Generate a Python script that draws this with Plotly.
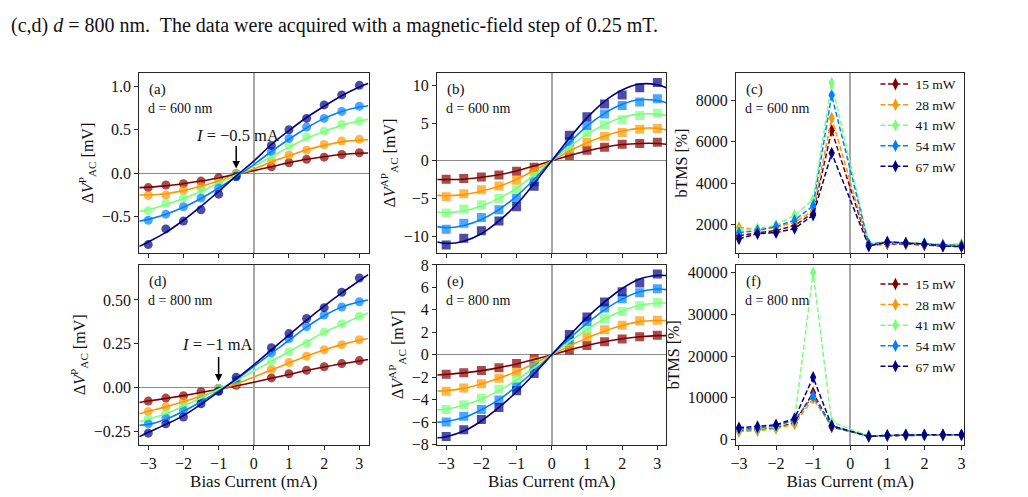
import plotly.graph_objects as go

# ---------------- data ----------------
powers = ["15 mW", "28 mW", "41 mW", "54 mW", "67 mW"]
colors = ["#800000", "#FF9700", "#7BFF7B", "#0080FF", "#000080"]

x_pts = [-3, -2.5, -2, -1.5, -1, -0.5, 0.5, 1, 1.5, 2, 2.5, 3]
x_fit = [-3.25, -3, -2.5, -2, -1.5, -1, -0.5, 0, 0.5, 1, 1.5, 2, 2.5, 3, 3.25]
x_ticks = [-3, -2, -1, 0, 1, 2, 3]

# (a) d = 600 nm, Delta V^P_AC [mV]
a_pts = [
    [-0.165, -0.135, -0.12, -0.09, -0.05, -0.005, 0.075, 0.12, 0.16, 0.185, 0.215, 0.235],
    [-0.255, -0.25, -0.195, -0.155, -0.09, -0.01, 0.135, 0.21, 0.265, 0.33, 0.37, 0.39],
    [-0.43, -0.345, -0.285, -0.19, -0.10, -0.015, 0.20, 0.315, 0.42, 0.485, 0.56, 0.60],
    [-0.54, -0.47, -0.385, -0.285, -0.17, -0.03, 0.25, 0.40, 0.53, 0.63, 0.71, 0.77],
    [-0.82, -0.64, -0.55, -0.42, -0.24, -0.04, 0.32, 0.50, 0.63, 0.785, 0.90, 1.01],
]
a_fit = [
    [-0.165, -0.16, -0.145, -0.12, -0.09, -0.055, -0.01, 0.03, 0.075, 0.12, 0.16, 0.19, 0.215, 0.23, 0.232],
    [-0.25, -0.25, -0.235, -0.20, -0.15, -0.09, -0.02, 0.05, 0.13, 0.20, 0.27, 0.32, 0.36, 0.38, 0.385],
    [-0.44, -0.42, -0.36, -0.29, -0.21, -0.11, -0.02, 0.08, 0.19, 0.30, 0.40, 0.48, 0.55, 0.60, 0.62],
    [-0.55, -0.53, -0.47, -0.39, -0.29, -0.17, -0.04, 0.10, 0.25, 0.39, 0.52, 0.63, 0.71, 0.76, 0.775],
    [-0.84, -0.79, -0.68, -0.54, -0.38, -0.21, -0.03, 0.14, 0.33, 0.49, 0.64, 0.77, 0.89, 0.99, 1.03],
]

# (b) d = 600 nm, Delta V^AP_AC [mV]
b_pts = [
    [-2.45, -2.35, -2.15, -1.9, -1.4, -0.85, 0.7, 1.4, 1.8, 2.2, 2.3, 2.45],
    [-4.8, -4.4, -3.85, -3.35, -2.6, -1.4, 1.35, 2.45, 3.25, 3.75, 4.2, 4.3],
    [-6.95, -6.4, -5.85, -5.0, -3.85, -2.1, 1.7, 3.75, 4.8, 5.45, 6.0, 6.3],
    [-9.1, -8.3, -7.55, -6.5, -5.0, -2.8, 2.55, 4.7, 6.2, 7.35, 7.8, 8.25],
    [-11.2, -10.3, -9.3, -8.0, -6.1, -3.4, 3.4, 5.85, 7.55, 8.75, 9.7, 10.4],
]
b_fit = [
    [-2.5, -2.5, -2.45, -2.2, -1.85, -1.35, -0.7, 0, 0.7, 1.3, 1.8, 2.15, 2.3, 2.3, 2.2],
    [-4.6, -4.65, -4.5, -4.05, -3.4, -2.45, -1.3, 0, 1.3, 2.4, 3.3, 3.95, 4.3, 4.3, 4.1],
    [-6.8, -6.9, -6.65, -6.0, -5.0, -3.65, -1.9, 0, 1.85, 3.5, 4.8, 5.75, 6.2, 6.2, 6.0],
    [-8.75, -8.9, -8.6, -7.8, -6.5, -4.7, -2.45, 0, 2.4, 4.6, 6.3, 7.5, 8.1, 8.0, 7.7],
    [-10.8, -11.0, -10.7, -9.7, -8.0, -5.8, -3.0, 0, 3.0, 5.7, 7.9, 9.4, 10.2, 10.1, 9.7],
]

# (c) d = 600 nm, bTMS [%]
c_pts = [
    [1450, 1600, 1700, 1950, 2550, 6550, 980, 1050, 1050, 1000, 950, 950],
    [1850, 1750, 1850, 2100, 2650, 7150, 1000, 1100, 1080, 1050, 1000, 1050],
    [1700, 1800, 1950, 2450, 3200, 8850, 1050, 1150, 1100, 1100, 1000, 1000],
    [1600, 1700, 1900, 2200, 2900, 8250, 1050, 1150, 1100, 1050, 1000, 980],
    [1300, 1550, 1600, 1800, 2450, 5450, 950, 1150, 1100, 1050, 950, 920],
]

# (d) d = 800 nm, Delta V^P_AC [mV]
d_pts = [
    [-0.077, -0.06, -0.046, -0.024, -0.005, 0.013, 0.055, 0.079, 0.099, 0.119, 0.137, 0.154],
    [-0.137, -0.11, -0.079, -0.051, -0.013, 0.022, 0.104, 0.143, 0.179, 0.216, 0.245, 0.273],
    [-0.178, -0.147, -0.104, -0.059, -0.005, 0.037, 0.15, 0.205, 0.251, 0.317, 0.364, 0.407],
    [-0.207, -0.174, -0.128, -0.073, -0.018, 0.042, 0.198, 0.28, 0.348, 0.414, 0.46, 0.49],
    [-0.26, -0.207, -0.168, -0.092, -0.022, 0.059, 0.227, 0.308, 0.394, 0.456, 0.544, 0.625],
]
d_fit = [
    [-0.085, -0.077, -0.062, -0.046, -0.028, -0.01, 0.01, 0.03, 0.053, 0.075, 0.097, 0.117, 0.136, 0.152, 0.16],
    [-0.15, -0.135, -0.11, -0.08, -0.05, -0.015, 0.02, 0.06, 0.10, 0.14, 0.18, 0.215, 0.245, 0.27, 0.28],
    [-0.195, -0.18, -0.15, -0.105, -0.06, -0.01, 0.04, 0.095, 0.15, 0.205, 0.26, 0.315, 0.36, 0.405, 0.425],
    [-0.215, -0.21, -0.18, -0.135, -0.08, -0.02, 0.045, 0.12, 0.195, 0.27, 0.345, 0.41, 0.46, 0.49, 0.50],
    [-0.28, -0.255, -0.21, -0.16, -0.095, -0.025, 0.05, 0.13, 0.215, 0.30, 0.385, 0.465, 0.54, 0.61, 0.645],
]

# (e) d = 800 nm, Delta V^AP_AC [mV]
e_pts = [
    [-1.73, -1.61, -1.41, -1.15, -0.78, -0.37, 0.43, 0.83, 1.15, 1.41, 1.61, 1.73],
    [-3.25, -2.96, -2.59, -2.1, -1.53, -0.58, 0.78, 1.58, 2.22, 2.62, 3.02, 3.08],
    [-4.89, -4.46, -3.88, -3.08, -2.24, -0.86, 1.15, 2.24, 3.22, 3.86, 4.37, 4.66],
    [-5.99, -5.47, -4.89, -4.03, -2.88, -1.0, 1.3, 2.96, 4.17, 4.98, 5.53, 5.87],
    [-7.28, -6.68, -5.76, -4.69, -3.22, -1.67, 1.81, 3.37, 4.69, 5.61, 6.39, 7.19],
]
e_fit = [
    [-1.8, -1.75, -1.62, -1.42, -1.15, -0.82, -0.42, 0, 0.42, 0.82, 1.15, 1.42, 1.6, 1.7, 1.7],
    [-3.25, -3.2, -3.0, -2.6, -2.1, -1.5, -0.78, 0, 0.78, 1.5, 2.1, 2.6, 2.95, 3.05, 3.05],
    [-4.9, -4.85, -4.5, -3.95, -3.2, -2.25, -1.15, 0, 1.15, 2.25, 3.2, 3.9, 4.4, 4.6, 4.6],
    [-6.0, -5.95, -5.6, -4.9, -4.0, -2.8, -1.45, 0, 1.45, 2.8, 4.0, 4.95, 5.6, 5.85, 5.8],
    [-7.4, -7.3, -6.8, -5.9, -4.7, -3.3, -1.7, 0, 1.7, 3.3, 4.7, 5.9, 6.75, 7.05, 7.05],
]

# (f) d = 800 nm, bTMS [%]
f_pts = [
    [2200, 2400, 2800, 4000, 11200, 3000, 800, 900, 1000, 1000, 1000, 1000],
    [1900, 2100, 2600, 3700, 9800, 3100, 800, 950, 1000, 1050, 1050, 1050],
    [2400, 2600, 3000, 4800, 40000, 4200, 800, 1000, 1100, 1100, 1100, 1100],
    [2500, 2700, 3300, 4600, 10400, 3200, 750, 950, 1050, 1050, 1100, 1100],
    [2800, 3100, 3500, 5000, 14900, 3300, 700, 1000, 1100, 1100, 1100, 1100],
]

# ---------------- layout helpers ----------------
W, H = 1028, 497
FONT = "Liberation Serif"
TXT = "#111111"
fig = go.Figure()


def px_x(a, b):
    return [a / W, b / W]


def px_y(top, bot):
    return [1 - bot / H, 1 - top / H]


cols = [px_x(134, 365), px_x(434, 665), px_x(735, 965)]
rows = [px_y(67, 254), px_y(266, 452)]

panels = [
    # name, row, col, yrange, ytickvals, ytickformat, ytitle, xrange, zero-h
    ("a", 0, 0, [-0.92, 1.155], [-0.5, 0, 0.5, 1.0], ".1f",
     "Δ<i>V</i><sup>P</sup><sub>AC</sub> [mV]", [-3.26, 3.26], True),
    ("b", 0, 1, [-12.3, 11.7], [-10, -5, 0, 5, 10], "d",
     "Δ<i>V</i><sup>AP</sup><sub>AC</sub> [mV]", [-3.26, 3.26], True),
    ("c", 0, 2, [600, 9340], [2000, 4000, 6000, 8000], "d",
     "bTMS [%]", [-3.08, 3.08], False),
    ("d", 1, 0, [-0.325, 0.70], [-0.25, 0, 0.25, 0.5], ".2f",
     "Δ<i>V</i><sup>P</sup><sub>AC</sub> [mV]", [-3.26, 3.26], True),
    ("e", 1, 1, [-8, 8], [-8, -6, -4, -2, 0, 2, 4, 6, 8], "d",
     "Δ<i>V</i><sup>AP</sup><sub>AC</sub> [mV]", [-3.26, 3.26], True),
    ("f", 1, 2, [-1230, 41850], [0, 10000, 20000, 30000, 40000], "d",
     "bTMS [%]", [-3.08, 3.08], False),
]

axis_line = "#262626"
for i, (name, r, c, yr, ytv, yfmt, ytitle, xr, zh) in enumerate(panels):
    n = i + 1
    xk = "xaxis" if n == 1 else f"xaxis{n}"
    yk = "yaxis" if n == 1 else f"yaxis{n}"
    xa = "x" if n == 1 else f"x{n}"
    ya = "y" if n == 1 else f"y{n}"
    fig.layout[xk] = dict(
        domain=cols[c], anchor=ya, range=xr, tickvals=x_ticks,
        showticklabels=(r == 1), ticks="outside", ticklen=4, tickwidth=1,
        tickcolor=axis_line, showline=True, mirror=True, linecolor=axis_line,
        linewidth=1, showgrid=False, zeroline=True, zerolinecolor="#a6a6a6",
        zerolinewidth=1.5, tickfont=dict(family=FONT, size=16, color=TXT),
        title=dict(text="Bias Current (mA)" if r == 1 else "",
                   font=dict(family=FONT, size=17, color=TXT), standoff=3),
    )
    fig.layout[yk] = dict(
        domain=rows[r], anchor=xa, range=yr, tickvals=ytv, tickformat=yfmt,
        ticks="outside", ticklen=4, tickwidth=1, tickcolor=axis_line,
        showline=True, mirror=True, linecolor=axis_line, linewidth=1,
        showgrid=False, zeroline=zh, zerolinecolor="#8c8c8c", zerolinewidth=1,
        tickfont=dict(family=FONT, size=16, color=TXT),
        title=dict(text=ytitle, font=dict(family=FONT, size=16, color=TXT),
                   standoff=4),
    )
    # panel labels
    fig.add_annotation(text=f"({name})", xref=f"{xa} domain", yref=f"{ya} domain",
                       x=0.035, y=0.905, xanchor="left", yanchor="middle",
                       showarrow=False, font=dict(family=FONT, size=15, color=TXT))
    fig.add_annotation(text="d = 600 nm" if r == 0 else "d = 800 nm",
                       xref=f"{xa} domain", yref=f"{ya} domain",
                       x=0.03, y=0.80, xanchor="left", yanchor="middle",
                       showarrow=False, font=dict(family=FONT, size=14, color=TXT))

# ---------------- traces ----------------
def add_fit_panel(n, pts, fit, symbol):
    xa = "x" if n == 1 else f"x{n}"
    ya = "y" if n == 1 else f"y{n}"
    for k in range(5):
        fig.add_trace(go.Scatter(
            x=x_pts, y=pts[k], mode="markers", xaxis=xa, yaxis=ya,
            marker=dict(symbol=symbol, size=9, color=colors[k], opacity=0.7,
                        line=dict(width=0)),
            showlegend=False, hoverinfo="skip"))
    for k in range(5):
        fig.add_trace(go.Scatter(
            x=x_fit, y=fit[k], mode="lines", xaxis=xa, yaxis=ya,
            line=dict(color=colors[k], width=1.6, shape="spline"),
            showlegend=False, hoverinfo="skip"))


def add_tms_panel(n, pts, legend_name):
    xa = "x" if n == 1 else f"x{n}"
    ya = "y" if n == 1 else f"y{n}"
    for k in range(5):
        fig.add_trace(go.Scatter(
            x=x_pts, y=pts[k], mode="lines+markers", xaxis=xa, yaxis=ya,
            name=powers[k], legend=legend_name,
            line=dict(color=colors[k], width=1.5, dash="5px,2.5px"),
            marker=dict(symbol="diamond-tall", size=9, color=colors[k]),
            showlegend=True))


add_fit_panel(1, a_pts, a_fit, "circle")
add_fit_panel(2, b_pts, b_fit, "square")
add_tms_panel(3, c_pts, "legend")
add_fit_panel(4, d_pts, d_fit, "circle")
add_fit_panel(5, e_pts, e_fit, "square")
add_tms_panel(6, f_pts, "legend2")

# arrows and labels for the crossing points
fig.add_annotation(text="<i>I</i> = −0.5 mA", xref="x", yref="y", x=-0.47, y=0.433,
                   showarrow=False, font=dict(family=FONT, size=16.5, color=TXT))
fig.add_annotation(text="", xref="x", yref="y", x=-0.5, y=0.055, ax=-0.5, ay=0.33,
                   axref="x", ayref="y", showarrow=True, arrowhead=2, arrowsize=1,
                   arrowwidth=1.5, arrowcolor="black")
fig.add_annotation(text="<i>I</i> = −1 mA", xref="x4", yref="y4", x=-1.03, y=0.243,
                   showarrow=False, font=dict(family=FONT, size=16.5, color=TXT))
fig.add_annotation(text="", xref="x4", yref="y4", x=-1, y=0.035, ax=-1, ay=0.183,
                   axref="x4", ayref="y4", showarrow=True, arrowhead=2, arrowsize=1,
                   arrowwidth=1.5, arrowcolor="black")

# caption line above the figure
fig.add_annotation(
    text="(c,d) <i>d</i> = 800 nm.  The data were acquired with a magnetic-field step of 0.25 mT.",
    xref="paper", yref="paper", x=3 / W, y=1 - 18 / H, xanchor="left", yanchor="middle",
    showarrow=False, font=dict(family=FONT, size=20, color=TXT))

leg_common = dict(bgcolor="rgba(0,0,0,0)", borderwidth=0, xanchor="right", yanchor="top",
                  font=dict(family=FONT, size=13.5, color=TXT), itemwidth=30,
                  tracegroupgap=0)
fig.update_layout(
    width=W, height=H, autosize=False,
    margin=dict(l=0, r=0, t=0, b=0),
    paper_bgcolor="white", plot_bgcolor="white",
    legend=dict(x=962 / W, y=1 - 63 / H, **leg_common),
    legend2=dict(x=962 / W, y=1 - 270 / H, **leg_common),
    font=dict(family=FONT),
)

fig.write_html("out.html")
